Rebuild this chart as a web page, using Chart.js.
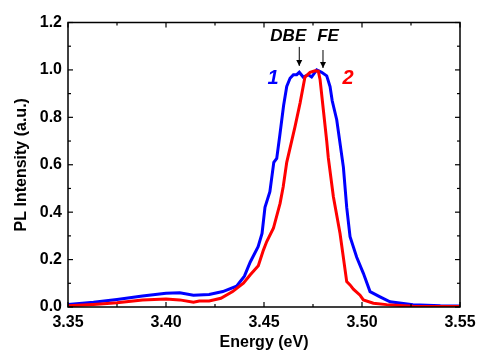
<!DOCTYPE html>
<html><head><meta charset="utf-8">
<script src="https://cdn.jsdelivr.net/npm/chart.js@4/dist/chart.umd.min.js"></script>
<style>html,body{margin:0;padding:0;background:#fff}#wrap{width:477px;height:352px}</style>
</head><body><div id="wrap"><canvas id="c"></canvas></div>
<script>
const energy1 = [3.350,3.363,3.375,3.388,3.400,3.407,3.414,3.422,3.429,3.436,3.440,3.443,3.447,3.449,3.4505,3.453,3.455,3.4565,3.458,3.460,3.4616,3.4633,3.465,3.4667,3.468,3.470,3.4726,3.4743,3.4769,3.4794,3.482,3.4837,3.4848,3.4871,3.4905,3.4922,3.4939,3.4973,3.5007,3.5041,3.5092,3.5143,3.526,3.54,3.55];
const intensity1 = [0.011,0.02,0.032,0.046,0.058,0.06,0.05,0.053,0.065,0.088,0.13,0.19,0.254,0.31,0.42,0.486,0.61,0.627,0.72,0.85,0.93,0.965,0.98,0.98,0.99,0.97,0.98,0.97,1.0,0.99,0.975,0.93,0.87,0.79,0.59,0.42,0.297,0.21,0.142,0.065,0.043,0.022,0.01,0.005,0.004];
const energy2 = [3.350,3.363,3.375,3.388,3.400,3.407,3.414,3.417,3.422,3.428,3.434,3.4395,3.4429,3.4471,3.4497,3.4514,3.4548,3.4582,3.4598,3.4616,3.4658,3.4684,3.4709,3.4735,3.476,3.4777,3.4786,3.4803,3.482,3.4828,3.4854,3.4888,3.4922,3.4939,3.4956,3.499,3.5007,3.5058,3.5126,3.526,3.55];
const intensity2 = [0.005,0.011,0.018,0.03,0.034,0.03,0.02,0.025,0.025,0.037,0.065,0.10,0.135,0.174,0.24,0.276,0.332,0.437,0.507,0.61,0.76,0.86,0.97,0.99,0.996,0.995,0.96,0.83,0.70,0.63,0.465,0.31,0.107,0.093,0.075,0.05,0.03,0.016,0.01,0.003,0.002];
const xTicks = [3.35,3.40,3.45,3.50,3.55];
const xMinorTicks = [3.375,3.425,3.475,3.525];
const yTicks = [0.0,0.2,0.4,0.6,0.8,1.0,1.2];
const yMinorTicks = [0.1,0.3,0.5,0.7,0.9,1.1];
const seriesLabels = ['1','2'];
const peakLabels = [{text:'DBE', x:3.4680}, {text:'FE', x:3.4801}];

const FONT = '"Liberation Sans", Arial, sans-serif';

const framePlugin = {
  id:'frame',
  afterDatasetsDraw(chart){
    const {ctx, chartArea:a, scales:{x,y}} = chart;
    ctx.save();
    ctx.strokeStyle='#000'; ctx.lineWidth=1.5;
    ctx.strokeRect(a.left, a.top, a.right-a.left, a.bottom-a.top);
    ctx.lineWidth=1.2;
    const tick=(x1,y1,x2,y2)=>{ctx.beginPath();ctx.moveTo(x1,y1);ctx.lineTo(x2,y2);ctx.stroke();};
    xTicks.forEach(v=>{const p=x.getPixelForValue(v);tick(p,a.bottom,p,a.bottom-5);tick(p,a.top,p,a.top+5);});
    xMinorTicks.forEach(v=>{const p=x.getPixelForValue(v);tick(p,a.bottom,p,a.bottom-3);tick(p,a.top,p,a.top+3);});
    yTicks.forEach(v=>{const p=y.getPixelForValue(v);tick(a.left,p,a.left+5,p);tick(a.right,p,a.right-5,p);});
    yMinorTicks.forEach(v=>{const p=y.getPixelForValue(v);tick(a.left,p,a.left+3,p);tick(a.right,p,a.right-3,p);});
    // peak labels with arrows
    ctx.fillStyle='#000'; ctx.font='italic bold 17px '+FONT;
    ctx.textAlign='center'; ctx.textBaseline='middle';
    const dbeX=x.getPixelForValue(peakLabels[0].x), feX=x.getPixelForValue(peakLabels[1].x);
    const ly=y.getPixelForValue(1.143);
    ctx.fillText(peakLabels[0].text, dbeX-11, ly);
    ctx.fillText(peakLabels[1].text, feX+5, ly);
    ctx.lineWidth=1;
    const arrow=(px, y1, y2)=>{
      ctx.beginPath();ctx.moveTo(px,y1);ctx.lineTo(px,y2);ctx.stroke();
      ctx.beginPath();ctx.moveTo(px-3,y2-6);ctx.lineTo(px,y2);ctx.lineTo(px+3,y2-6);ctx.closePath();ctx.fill();
    };
    arrow(dbeX, y.getPixelForValue(1.097), y.getPixelForValue(1.017));
    arrow(feX, y.getPixelForValue(1.084), y.getPixelForValue(1.008));
    // series numbers
    ctx.font='italic bold 20px '+FONT;
    ctx.fillStyle='#0000ff';
    ctx.fillText(seriesLabels[0], x.getPixelForValue(3.4546), y.getPixelForValue(0.962));
    ctx.fillStyle='#ff0000';
    ctx.fillText(seriesLabels[1], x.getPixelForValue(3.4929), y.getPixelForValue(0.962));
    ctx.restore();
  }
};

new Chart(document.getElementById('c'), {
  type:'line',
  data:{datasets:[
    {label:seriesLabels[1], data:energy2.map((e,i)=>({x:e,y:intensity2[i]})), borderColor:'#ff0000', borderWidth:3, pointRadius:0, fill:false, tension:0},
    {label:seriesLabels[0], data:energy1.map((e,i)=>({x:e,y:intensity1[i]})), borderColor:'#0000ff', borderWidth:3, pointRadius:0, fill:false, tension:0}
  ]},
  options:{
    responsive:true, maintainAspectRatio:false, animation:false,
    layout:{padding:{top:22.5, right:17, left:0, bottom:0}},
    plugins:{legend:{display:false}, tooltip:{enabled:false}},
    scales:{
      x:{type:'linear', min:3.35, max:3.55,
        afterBuildTicks(s){s.ticks=xTicks.map(v=>({value:v}));},
        afterFit(s){s.height=45; s.paddingLeft=0; s.paddingRight=0;},
        grid:{display:false, drawTicks:false}, border:{display:false},
        ticks:{padding:6, color:'#000', font:{family:FONT, size:16, weight:'bold'}, callback:v=>v.toFixed(2), maxRotation:0},
        title:{display:true, text:'Energy (eV)', color:'#000', font:{family:FONT, size:16, weight:'bold'}, padding:{top:0,bottom:0}}
      },
      y:{type:'linear', min:0, max:1.2,
        afterBuildTicks(s){s.ticks=yTicks.map(v=>({value:v}));},
        afterFit(s){s.width=68; s.paddingTop=0; s.paddingBottom=0;},
        grid:{display:false, drawTicks:false}, border:{display:false},
        ticks:{padding:6, color:'#000', font:{family:FONT, size:16, weight:'bold'}, callback:v=>v.toFixed(1)},
        title:{display:true, text:'PL Intensity (a.u.)', color:'#000', font:{family:FONT, size:16, weight:'bold'}, padding:{top:12,bottom:0}}
      }
    }
  },
  plugins:[framePlugin]
});
</script></body></html>
